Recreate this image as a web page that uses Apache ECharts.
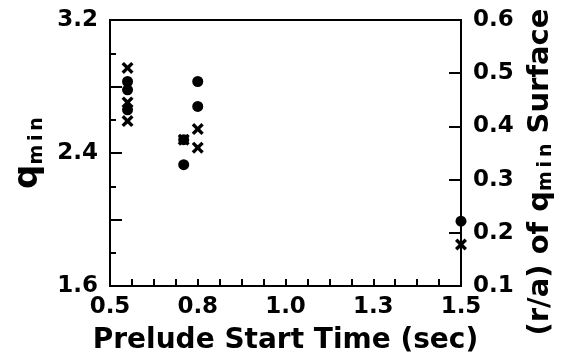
<!DOCTYPE html>
<html>
<head>
<meta charset="utf-8">
<script src="https://cdn.jsdelivr.net/npm/echarts@6/dist/echarts.min.js"></script>
<style>
  html, body { margin: 0; padding: 0; background: #fff; }
  #chart { width: 587px; height: 360px; }
</style>
</head>
<body>
<div id="chart"></div>
<script>
// q_min (filled circles, left axis)
const circleTimes = [0.55, 0.55, 0.55, 0.71, 0.71, 0.75, 0.75, 1.5];
const qminValues = [2.83, 2.78, 2.66, 2.48, 2.33, 2.83, 2.68, 1.99];
// (r/a) of q_min surface (crosses, right axis)
const crossTimes = [0.55, 0.55, 0.55, 0.71, 0.75, 0.75, 1.5];
const radiusValues = [0.51, 0.445, 0.41, 0.375, 0.395, 0.36, 0.178];

const font = "'DejaVu Sans', sans-serif";
const crossPath = 'path://M0,2L2,0L5,3L8,0L10,2L7,5L10,8L8,10L5,7L2,10L0,8L3,5Z';
const sub = 'm\u2009i\u2009n';

function pairs(xs, ys) {
  let out = [];
  for (let i = 0; i < xs.length; i++) {
    out.push([xs[i], ys[i]]);
  }
  return out;
}

let chart = echarts.init(document.getElementById('chart'));

let option = {
  animation: false,
  grid: {
    left: 110, right: 126, top: 20, bottom: 73,
    show: true, borderColor: '#000', borderWidth: 2
  },
  xAxis: {
    type: 'value',
    min: 0.5, max: 1.5, interval: 0.25,
    name: 'Prelude Start Time (sec)',
    nameLocation: 'middle',
    nameGap: 41,
    nameTextStyle: { fontFamily: font, fontWeight: 'bold', fontSize: 28, color: '#000' },
    axisLine: { lineStyle: { color: '#000', width: 2 } },
    axisTick: { inside: true, length: 7, lineStyle: { color: '#000', width: 2 } },
    minorTick: { show: true, splitNumber: 4, length: 7, lineStyle: { color: '#000', width: 2 } },
    splitLine: { show: false },
    axisLabel: {
      margin: 10,
      fontFamily: font, fontWeight: 'bold', fontSize: 23, color: '#000',
      formatter: v => v.toFixed(1)
    }
  },
  yAxis: [{
    type: 'value',
    position: 'left',
    min: 1.6, max: 3.2, interval: 0.4,
    name: '{q|q}{s|' + sub + '}',
    nameLocation: 'middle',
    nameRotate: 90,
    nameGap: 56,
    nameTextStyle: {
      rich: {
        q: { fontFamily: font, fontWeight: 'bold', fontSize: 34, lineHeight: 36, color: '#000' },
        s: { fontFamily: font, fontWeight: 'bold', fontSize: 19, lineHeight: 19, verticalAlign: 'bottom', color: '#000' }
      }
    },
    axisLine: { lineStyle: { color: '#000', width: 2 } },
    axisTick: { inside: true, length: 12, lineStyle: { color: '#000', width: 2 } },
    minorTick: { show: true, splitNumber: 2, length: 6, lineStyle: { color: '#000', width: 2 } },
    splitLine: { show: false },
    axisLabel: {
      margin: 12,
      fontFamily: font, fontWeight: 'bold', fontSize: 23, color: '#000',
      formatter: function (v) {
        let k = Math.round(v / 0.8 * 1000) / 1000;
        return Number.isInteger(k) ? v.toFixed(1) : '';
      }
    }
  }, {
    type: 'value',
    position: 'right',
    min: 0.1, max: 0.6, interval: 0.1,
    name: '{b|(r/a) of q}{s|' + sub + '}{b| Surface}',
    nameLocation: 'middle',
    nameRotate: 90,
    nameGap: 64,
    nameTextStyle: {
      padding: [0, 38, 0, 0],
      rich: {
        b: { fontFamily: font, fontWeight: 'bold', fontSize: 29, lineHeight: 31, color: '#000' },
        s: { fontFamily: font, fontWeight: 'bold', fontSize: 19, lineHeight: 19, verticalAlign: 'bottom', color: '#000' }
      }
    },
    axisLine: { lineStyle: { color: '#000', width: 2 } },
    axisTick: { inside: true, length: 12, lineStyle: { color: '#000', width: 2 } },
    splitLine: { show: false },
    axisLabel: {
      margin: 12,
      fontFamily: font, fontWeight: 'bold', fontSize: 23, color: '#000',
      formatter: v => v.toFixed(1)
    }
  }],
  series: [{
    name: 'qmin',
    type: 'scatter',
    yAxisIndex: 0,
    symbol: 'circle',
    symbolSize: 11,
    itemStyle: { color: '#000', opacity: 1 },
    data: pairs(circleTimes, qminValues)
  }, {
    name: 'r/a',
    type: 'scatter',
    yAxisIndex: 1,
    symbol: crossPath,
    symbolSize: 12,
    itemStyle: { color: '#000', opacity: 1 },
    data: pairs(crossTimes, radiusValues)
  }]
};

chart.setOption(option);
</script>
</body>
</html>
